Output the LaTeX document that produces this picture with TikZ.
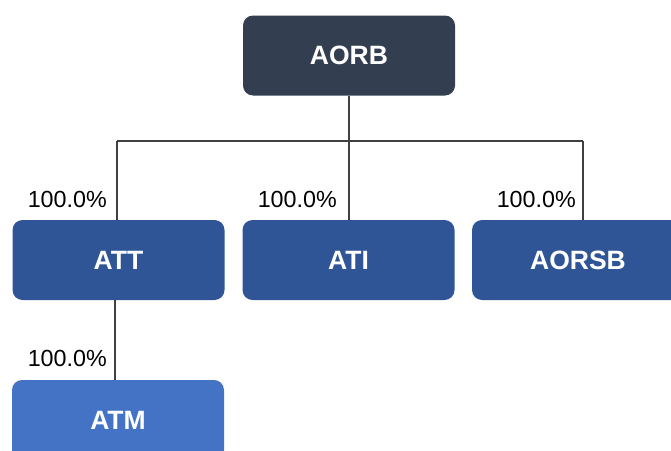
\documentclass[tikz,border=0pt]{standalone}
\usepackage{fontspec}
\setmainfont{Liberation Sans}
\definecolor{topbox}{HTML}{333F50}
\definecolor{midbox}{HTML}{2F5597}
\definecolor{lowbox}{HTML}{4472C4}
\definecolor{wire}{HTML}{404040}
\begin{document}
\begin{tikzpicture}[x=1pt,y=-1pt,
  orgbox/.style={rounded corners=10pt, minimum width=212pt, minimum height=80pt,
    inner sep=0pt, text=white, font=\fontsize{26.5}{26.5}\selectfont\bfseries},
  share/.style={anchor=base east, inner sep=0pt, font=\fontsize{23.3}{23.3}\selectfont},
  link/.style={draw=wire, line width=1.3pt}]
\useasboundingbox (0,0) rectangle (671,450);
\clip (0,0) rectangle (671,450);
\node[orgbox, fill=topbox] (aorb) at (349,55.5) {AORB};
\node[orgbox, fill=midbox] (att) at (118.5,260) {ATT};
\node[orgbox, fill=midbox] (ati) at (348.5,260) {ATI};
\node[orgbox, fill=midbox] (aorsb) at (578,260) {AORSB};
\node[orgbox, fill=lowbox] (atm) at (118,420) {ATM};
% bus under the parent
\coordinate (busL) at (117,141);
\coordinate (busM) at (349,141);
\coordinate (busR) at (583,141);
\draw[link] (aorb.south) -- (busM);
\draw[link] (busL) -- (busR);
\draw[link] (busL) -- (busL |- att.north);
\draw[link] (busM) -- (busM |- ati.north);
\draw[link] (busR) -- (busR |- aorsb.north);
\coordinate (subtop) at (115,300);
\draw[link] (subtop) -- (subtop |- atm.north);
% ownership shares
\node[share] (pAtt) at (107,207) {100.0\%};
\node[share] (pAti) at (337,207) {100.0\%};
\node[share] (pAorsb) at (576,207) {100.0\%};
\node[share] (pAtm) at (107,366) {100.0\%};
\end{tikzpicture}
\end{document}
